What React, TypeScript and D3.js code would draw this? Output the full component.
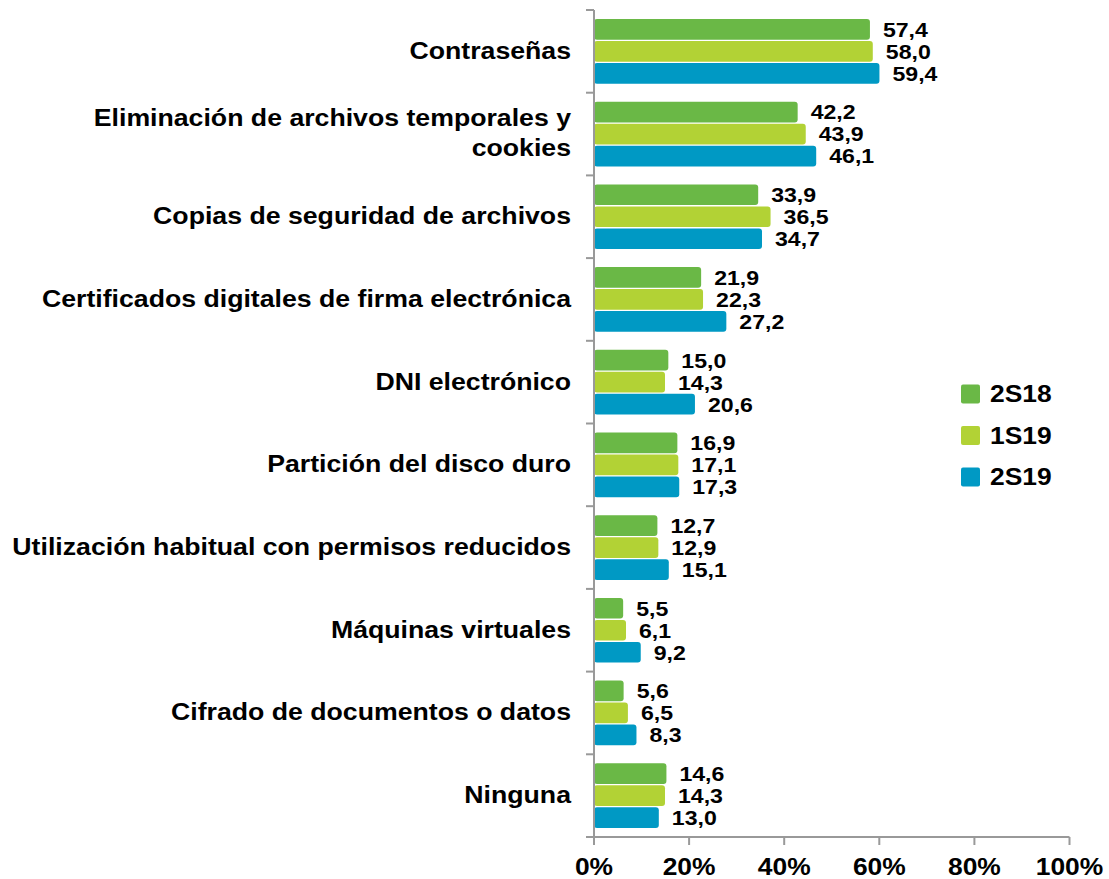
import React from "react";
import * as d3 from "d3";

const categories: string[][] = [
  ["Contraseñas"],
  ["Eliminación de archivos temporales y", "cookies"],
  ["Copias de seguridad de archivos"],
  ["Certificados digitales de firma electrónica"],
  ["DNI electrónico"],
  ["Partición del disco duro"],
  ["Utilización habitual con permisos reducidos"],
  ["Máquinas virtuales"],
  ["Cifrado de documentos o datos"],
  ["Ninguna"],
];
const s2S18 = [57.4, 42.2, 33.9, 21.9, 15.0, 16.9, 12.7, 5.5, 5.6, 14.6];
const s1S19 = [58.0, 43.9, 36.5, 22.3, 14.3, 17.1, 12.9, 6.1, 6.5, 14.3];
const s2S19 = [59.4, 46.1, 34.7, 27.2, 20.6, 17.3, 15.1, 9.2, 8.3, 13.0];
const seriesNames = ["2S18", "1S19", "2S19"];
const colors = ["#6AB846", "#B2D235", "#0099C4"];
const xTicks = [0, 20, 40, 60, 80, 100];

function T({ x, y, children, size, anchor = "start", dy = "0.35em", sx = 1.1 }: any) {
  return (
    <g transform={`translate(${x},${y}) scale(${sx},1)`}>
      <text x={0} y={0} dy={dy} textAnchor={anchor} fontSize={size} fill="#000">
        {children}
      </text>
    </g>
  );
}

export default function App() {
  const W = 1109, H = 879;
  const x = d3.scaleLinear().domain([0, 100]).range([594, 1069.5]);
  const y = d3.scaleBand<number>().domain(d3.range(categories.length)).range([10, 837]).paddingInner(0).paddingOuter(0);
  const bw = y.bandwidth();
  const inner = d3.scaleBand<number>().domain([0, 1, 2]).range([9, bw - 9]).paddingInner(0.06);
  const series = [s2S18, s1S19, s2S19];
  const font = "'Liberation Sans', Arial, Helvetica, sans-serif";
  const axisColor = "#999";
  return (
    <svg width={W} height={H} style={{ position: "absolute", left: 0, top: 0, background: "#fff" }} fontFamily={font} fontWeight="bold">
      {categories.map((_, i) => (
        <g key={i} transform={`translate(0,${y(i)})`}>
          {series.map((s, j) => {
            const v = s[i];
            const yy = inner(j)!;
            const h = inner.bandwidth();
            const xe = x(v) + 3;
            return (
              <g key={j}>
                <rect x={x(0)} y={yy} width={xe - x(0)} height={h} rx={3} fill={colors[j]} />
                <T x={xe + 13} y={yy + h / 2} size={21}>
                  {v.toFixed(1).replace(".", ",")}
                </T>
              </g>
            );
          })}
        </g>
      ))}
      <line x1={x(0)} x2={x(0)} y1={10} y2={837} stroke={axisColor} strokeWidth={2} />
      {d3.range(categories.length + 1).map((i) => {
        const yy = i < categories.length ? y(i)! : 837;
        return <line key={i} x1={x(0) - 8} x2={x(0)} y1={yy} y2={yy} stroke={axisColor} strokeWidth={2} />;
      })}
      <line x1={x(0) - 8} x2={x(100)} y1={837} y2={837} stroke={axisColor} strokeWidth={2} />
      {xTicks.map((t) => (
        <g key={t}>
          <line x1={x(t)} x2={x(t)} y1={837} y2={845} stroke={axisColor} strokeWidth={2} />
          <T x={x(t)} y={867} anchor="middle" size={24}>
            {t}%
          </T>
        </g>
      ))}
      {categories.map((lines, i) => {
        const cy = y(i)! + bw / 2;
        const lh = 30;
        return (
          <g key={i}>
            {lines.map((l, k) => (
              <T key={k} x={571} y={cy + (k - (lines.length - 1) / 2) * lh - 1} anchor="end" size={24} sx={1.112}>
                {l}
              </T>
            ))}
          </g>
        );
      })}
      {seriesNames.map((n, j) => {
        const cy = 394 + j * 41.5;
        return (
          <g key={n}>
            <rect x={961} y={cy - 9.5} width={19} height={19} rx={2} fill={colors[j]} />
            <T x={990} y={cy} size={24}>
              {n}
            </T>
          </g>
        );
      })}
    </svg>
  );
}
